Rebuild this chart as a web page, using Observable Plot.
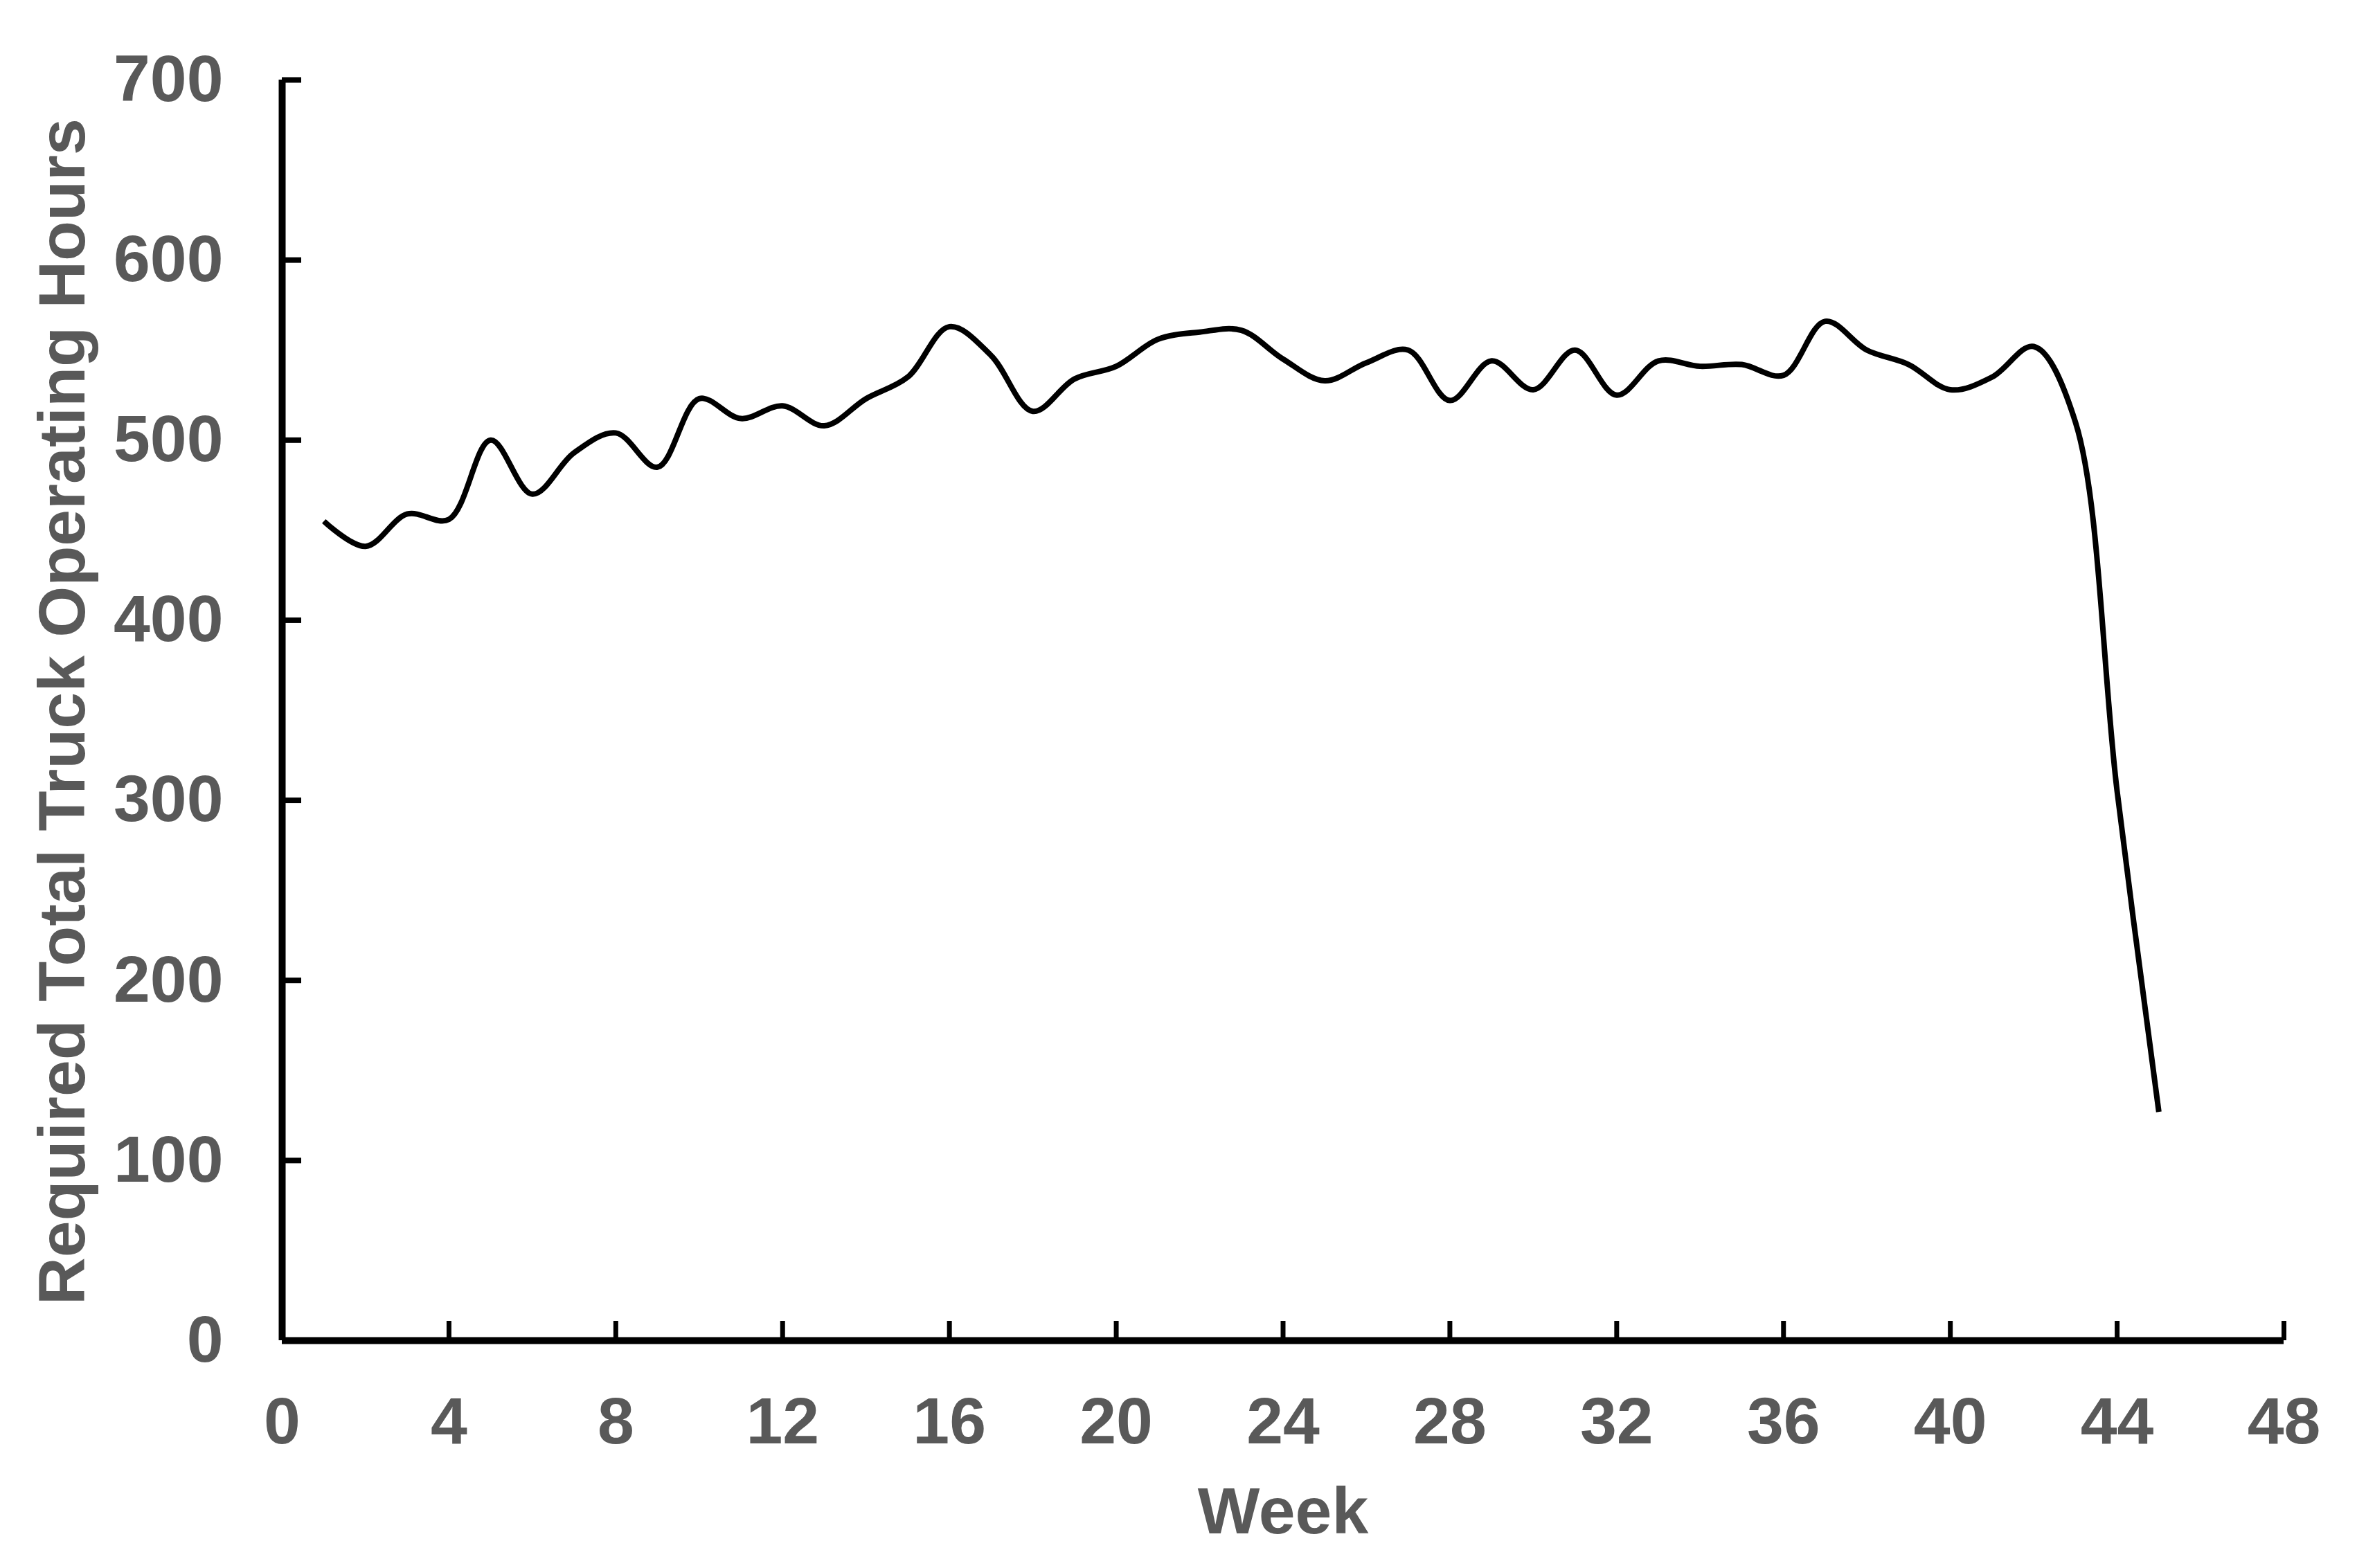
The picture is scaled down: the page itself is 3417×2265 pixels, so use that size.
<!DOCTYPE html>
<html>
<head>
<meta charset="utf-8">
<script src="https://cdn.jsdelivr.net/npm/d3@7"></script>
<script src="https://cdn.jsdelivr.net/npm/@observablehq/plot@0.6"></script>
<style>
  html, body { margin: 0; padding: 0; background: #ffffff; }
  #chart svg { display: block; }
</style>
</head>
<body>
<div id="chart"></div>
<script>
// ---- data ----
const weeks = [1, 2, 3, 4, 5, 6, 7, 8, 9, 10, 11, 12, 13, 14, 15, 16, 17, 18, 19, 20,
  21, 22, 23, 24, 25, 26, 27, 28, 29, 30, 31, 32, 33, 34, 35, 36, 37, 38, 39, 40,
  41, 42, 43, 44, 45];
const hours = [455, 441, 459, 456, 500, 470, 493, 504, 485, 523, 512, 519, 508, 523, 535,
  563, 547, 516, 534, 541, 556, 560, 561, 545, 533, 543, 550, 522, 544, 528,
  550, 525, 544, 541, 542, 536, 566, 550, 542, 528, 535, 552, 510, 305, 127];
const xTicks = [0, 4, 8, 12, 16, 20, 24, 28, 32, 36, 40, 44, 48];
const yTicks = [0, 100, 200, 300, 400, 500, 600, 700];
const xTitle = "Week";
const yTitle = "Required Total Truck Operating Hours";

const data = weeks.map((w, i) => ({week: w, hours: hours[i]}));

// ---- layout ----
const W = 3417, H = 2265;
const mL = 407, mR = 119, mT = 115, mB = 329;
const innerW = W - mL - mR, innerH = H - mT - mB;
const tickLen = 28;
const font = "'Liberation Sans', Arial, sans-serif";
const textColor = "#595959";
const fs = 95;

const chart = Plot.plot({
  width: W,
  height: H,
  marginLeft: mL,
  marginRight: mR,
  marginTop: mT,
  marginBottom: mB,
  style: {background: "#ffffff", fontFamily: font},
  x: {domain: [0, 48], axis: null},
  y: {domain: [0, 700], axis: null},
  marks: [
    // tick labels
    Plot.axisY(yTicks, {
      anchor: "left", tickSize: 0, tickPadding: 85, label: null,
      color: textColor, fontSize: fs, fontWeight: "bold", fontFamily: font
    }),
    Plot.axisX(xTicks, {
      anchor: "bottom", tickSize: 0, tickPadding: 81, label: null,
      color: textColor, fontSize: fs, fontWeight: "bold", fontFamily: font
    }),
    // inward ticks
    Plot.tickY(yTicks.filter(d => d > 0), {
      y: d => d, stroke: "#000", strokeWidth: 8, insetRight: innerW - tickLen
    }),
    Plot.tickX(xTicks.filter(d => d > 0), {
      x: d => d, stroke: "#000", strokeWidth: 7, insetTop: innerH - tickLen
    }),
    // axis lines
    Plot.ruleX([0], {stroke: "#000", strokeWidth: 10}),
    Plot.ruleY([0], {stroke: "#000", strokeWidth: 10}),
    // data line
    Plot.line(data, {
      x: "week", y: "hours", curve: "catmull-rom",
      stroke: "#000", strokeWidth: 8, strokeLinecap: "butt", strokeLinejoin: "round"
    }),
    // axis titles
    Plot.text([xTitle], {
      frameAnchor: "bottom", textAnchor: "middle", lineAnchor: "top", dy: 211,
      fill: textColor, fontSize: fs, fontWeight: "bold", fontFamily: font
    }),
    Plot.text([yTitle], {
      frameAnchor: "left", textAnchor: "middle", lineAnchor: "top", rotate: -90,
      dx: 54 - mL, dy: 2,
      fill: textColor, fontSize: fs, fontWeight: "bold", fontFamily: font
    })
  ]
});

document.getElementById("chart").appendChild(chart);
</script>
</body>
</html>
